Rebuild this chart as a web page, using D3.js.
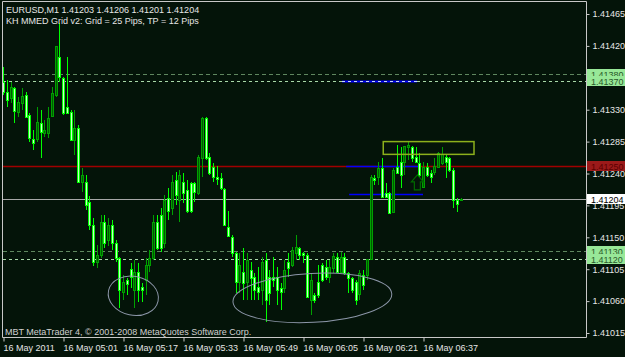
<!DOCTYPE html>
<html lang="en">
<head>
<meta charset="UTF-8">
<title>EURUSD,M1</title>
<script src="https://d3js.org/d3.v7.min.js"></script>
<style>
    body{ margin:0; background:#041409; }
    svg{ display:block; }
    text{ font-family:"Liberation Sans", Arial, sans-serif; font-size:9px; fill:#e6e6e6; }
</style>
</head>
<body>
<svg id="chart" width="625" height="357"></svg>
<script>
// one bar per minute, bar 0 = 04:45
const opens = [
 1.41369,1.41355,1.41346,1.41360,1.41327,1.41339,1.41351,1.41322,1.41289,1.41289,
 1.41311,1.41297,1.41297,1.41320,1.41351,1.41404,1.41375,1.41334,1.41327,1.41287,
 1.41304,1.41228,1.41228,1.41200,1.41167,1.41115,1.41125,1.41172,1.41146,1.41167,
 1.41142,1.41121,1.41073,1.41090,1.41105,1.41076,1.41101,1.41080,1.41090,1.41111,
 1.41121,1.41172,1.41181,1.41142,1.41205,1.41191,1.41231,1.41203,1.41228,1.41217,
 1.41227,1.41227,1.41212,1.41262,1.41318,1.41263,1.41249,1.41235,1.41234,1.41218,
 1.41165,1.41150,1.41128,1.41087,1.41101,1.41087,1.41104,1.41094,1.41080,1.41076,
 1.41118,1.41094,1.41094,1.41094,1.41078,1.41078,1.41115,1.41111,1.41128,1.41135,
 1.41128,1.41125,1.41062,1.41069,1.41087,1.41111,1.41108,1.41094,1.41107,1.41122,
 1.41101,1.41122,1.41100,1.41093,1.41087,1.41071,1.41097,1.41097,1.41119,1.41234,
 1.41235,1.41248,1.41212,1.41212,1.41186,1.41249,1.41256,1.41256,1.41277,1.41277,
 1.41263,1.41255,1.41221,1.41249,1.41241,1.41241,1.41249,1.41255,1.41263,1.41262,
 1.41245,1.41203,1.41203];
const highs = [
 1.41390,1.41372,1.41369,1.41362,1.41348,1.41360,1.41355,1.41325,1.41301,1.41334,
 1.41329,1.41315,1.41334,1.41362,1.41420,1.41452,1.41376,1.41404,1.41329,1.41329,
 1.41308,1.41248,1.41238,1.41208,1.41177,1.41139,1.41181,1.41181,1.41177,1.41174,
 1.41146,1.41122,1.41097,1.41093,1.41114,1.41118,1.41114,1.41085,1.41121,1.41132,
 1.41181,1.41181,1.41191,1.41210,1.41220,1.41238,1.41242,1.41245,1.41241,1.41231,
 1.41228,1.41228,1.41266,1.41320,1.41320,1.41269,1.41255,1.41250,1.41241,1.41220,
 1.41187,1.41153,1.41129,1.41128,1.41135,1.41128,1.41115,1.41100,1.41108,1.41122,
 1.41128,1.41104,1.41122,1.41108,1.41085,1.41118,1.41128,1.41136,1.41153,1.41136,
 1.41129,1.41128,1.41100,1.41071,1.41111,1.41114,1.41118,1.41118,1.41128,1.41128,
 1.41129,1.41128,1.41101,1.41094,1.41090,1.41104,1.41104,1.41119,1.41238,1.41238,
 1.41256,1.41262,1.41227,1.41214,1.41248,1.41280,1.41277,1.41279,1.41284,1.41279,
 1.41277,1.41269,1.41256,1.41255,1.41245,1.41262,1.41270,1.41277,1.41266,1.41263,
 1.41248,1.41205,1.41206];
const lows = [
 1.41351,1.41334,1.41339,1.41311,1.41320,1.41329,1.41318,1.41284,1.41273,1.41284,
 1.41262,1.41291,1.41290,1.41320,1.41348,1.41369,1.41322,1.41325,1.41287,1.41266,
 1.41227,1.41214,1.41188,1.41160,1.41110,1.41107,1.41121,1.41135,1.41138,1.41132,
 1.41115,1.41050,1.41062,1.41069,1.41078,1.41050,1.41059,1.41059,1.41069,1.41101,
 1.41118,1.41132,1.41129,1.41135,1.41174,1.41181,1.41196,1.41172,1.41198,1.41184,
 1.41184,1.41200,1.41210,1.41235,1.41259,1.41238,1.41228,1.41224,1.41217,1.41166,
 1.41152,1.41122,1.41071,1.41071,1.41062,1.41062,1.41062,1.41062,1.41062,1.41055,
 1.41031,1.41055,1.41080,1.41055,1.41047,1.41071,1.41094,1.41108,1.41118,1.41118,
 1.41114,1.41064,1.41040,1.41057,1.41064,1.41087,1.41090,1.41085,1.41100,1.41100,
 1.41100,1.41097,1.41071,1.41071,1.41055,1.41062,1.41076,1.41090,1.41118,1.41224,
 1.41224,1.41205,1.41205,1.41184,1.41186,1.41241,1.41220,1.41238,1.41259,1.41256,
 1.41255,1.41235,1.41221,1.41235,1.41227,1.41238,1.41248,1.41252,1.41234,1.41242,
 1.41191,1.41186,1.41201];
const closes = [
 1.41355,1.41344,1.41362,1.41327,1.41341,1.41349,1.41320,1.41289,1.41284,1.41313,
 1.41298,1.41301,1.41318,1.41353,1.41420,1.41376,1.41325,1.41325,1.41287,1.41304,
 1.41228,1.41238,1.41196,1.41167,1.41115,1.41125,1.41172,1.41143,1.41167,1.41142,
 1.41121,1.41076,1.41087,1.41085,1.41094,1.41101,1.41076,1.41076,1.41111,1.41121,
 1.41172,1.41136,1.41135,1.41203,1.41186,1.41228,1.41210,1.41238,1.41212,1.41188,
 1.41188,1.41214,1.41263,1.41318,1.41262,1.41241,1.41235,1.41232,1.41220,1.41167,
 1.41153,1.41128,1.41087,1.41111,1.41085,1.41118,1.41093,1.41076,1.41073,1.41115,
 1.41062,1.41071,1.41090,1.41076,1.41073,1.41104,1.41107,1.41132,1.41136,1.41125,
 1.41125,1.41066,1.41090,1.41062,1.41069,1.41090,1.41094,1.41108,1.41124,1.41101,
 1.41122,1.41100,1.41093,1.41076,1.41062,1.41100,1.41083,1.41119,1.41235,1.41231,
 1.41248,1.41207,1.41207,1.41184,1.41245,1.41241,1.41238,1.41279,1.41280,1.41262,
 1.41256,1.41238,1.41249,1.41238,1.41235,1.41250,1.41269,1.41267,1.41256,1.41245,
 1.41203,1.41198,1.41204];

const timeTicks = [0, 16, 32, 48, 64, 80, 96, 112];
const timeLabels = ["16 May 2011", "16 May 05:01", "16 May 05:17", "16 May 05:33",
                    "16 May 05:49", "16 May 06:05", "16 May 06:21", "16 May 06:37"];
const priceTicks = [1.41465, 1.41420, 1.41375, 1.41330, 1.41285, 1.41240,
                    1.41195, 1.41150, 1.41105, 1.41060, 1.41015];

const gridLevels = [1.41380, 1.41370, 1.41130, 1.41120];   // grid lines (buy / sell)
const tpLevel = 1.41250;
const bidPrice = 1.41204;
// short blue segments: [fromBar, toBar, price, dashed]
const blueLines = [[90.4, 110.4, 1.41370, true], [91.5, 111.2, 1.41250, false], [92.3, 112, 1.41211, false]];
// drawn objects
const boxObj = {t1: 101.4, t2: 125.6, p1: 1.41285, p2: 1.41267};
const arrowObj = {t: 110.5, p: 1.41238};
const ellipses = [
    {t1: 28, t2: 41.5, p1: 1.41095, p2: 1.41040, rot: 12},
    {t1: 61.3, t2: 103.7, p1: 1.41099, p2: 1.41030, rot: -3}
];
const header1 = "EURUSD,M1  1.41203 1.41206 1.41201 1.41204";
const header2 = "KH MMED Grid v2: Grid = 25 Pips, TP = 12 Pips";
const copyright = "MBT MetaTrader 4, \u00a9 2001-2008 MetaQuotes Software Corp.";

const svg = d3.select("#chart");
const pL = 3, pR = 586, pT = 1, pB = 338;

const x = d3.scaleLinear().domain([0, 16]).range([3, 63]);
const y = d3.scaleLinear().domain([1.41015, 1.41465]).range([333, 14]);

svg.append("rect").attr("width", 625).attr("height", 357).attr("fill", "#041409");

svg.append("defs").append("clipPath").attr("id", "plotclip")
    .append("rect").attr("x", pL).attr("y", pT).attr("width", pR - pL).attr("height", pB - pT);

const plot = svg.append("g").attr("clip-path", "url(#plotclip)");
const yy = p => Math.round(y(p)) + 0.5;

// grid levels
plot.selectAll(".lvl").data(gridLevels).join("line")
    .attr("x1", pL).attr("x2", pR)
    .attr("y1", d => yy(d)).attr("y2", d => yy(d))
    .attr("stroke", (d, i) => i % 2 === 0 ? "#5f875f" : "#a8d8a8")
    .attr("stroke-dasharray", (d, i) => i % 2 === 0 ? "4,3" : "3,3");

plot.append("line")
    .attr("x1", pL).attr("x2", pR)
    .attr("y1", yy(tpLevel)).attr("y2", yy(tpLevel))
    .attr("stroke", "#a00000").attr("stroke-width", 1.5);

plot.selectAll(".blue").data(blueLines).join("line")
    .attr("x1", d => x(d[0])).attr("x2", d => x(d[1]))
    .attr("y1", d => yy(d[2])).attr("y2", d => yy(d[2]))
    .attr("stroke", "#0000ff").attr("stroke-width", d => d[3] ? 2 : 1.5);
// light dashes over the dashed blue segment
plot.selectAll(".blued").data(blueLines.filter(d => d[3])).join("line")
    .attr("x1", d => x(d[0])).attr("x2", d => x(d[1]))
    .attr("y1", d => yy(d[2])).attr("y2", d => yy(d[2]))
    .attr("stroke", "#c8d8ff").attr("stroke-dasharray", "3,3");

plot.append("line")
    .attr("x1", pL).attr("x2", pR)
    .attr("y1", yy(bidPrice)).attr("y2", yy(bidPrice))
    .attr("stroke", "#a8a8a8");

// candles
const bars = d3.range(opens.length).map(i => ({i, o: opens[i], h: highs[i], l: lows[i], c: closes[i]}));
const cg = plot.append("g").attr("shape-rendering", "crispEdges");
const cand = cg.selectAll("g").data(bars).join("g");
const up = d => d.c > d.o;
cand.append("line")
    .attr("x1", d => Math.round(x(d.i)) + 0.5).attr("x2", d => Math.round(x(d.i)) + 0.5)
    .attr("y1", d => y(d.h)).attr("y2", d => y(d.l))
    .attr("stroke", d => up(d) ? "#00a000" : "#00ff00");
cand.append("rect")
    .attr("x", d => Math.round(x(d.i)) - 1)
    .attr("y", d => Math.round(y(Math.max(d.o, d.c))))
    .attr("width", 2)
    .attr("height", d => Math.max(1, Math.round(Math.abs(y(d.o) - y(d.c)))))
    .attr("fill", d => up(d) ? "#005a00" : "#c8ffc8")
    .attr("stroke", d => up(d) ? "#00a000" : "#00ff00");

// rectangle object
plot.append("rect")
    .attr("x", x(boxObj.t1)).attr("y", y(boxObj.p1))
    .attr("width", x(boxObj.t2) - x(boxObj.t1)).attr("height", y(boxObj.p2) - y(boxObj.p1))
    .attr("fill", "none").attr("stroke", "#8cb01c").attr("stroke-width", 1.5);

// arrow object
const ax = x(arrowObj.t), ay = y(arrowObj.p);
plot.append("path")
    .attr("d", `M${ax},${ay} L${ax + 6},${ay + 7} L${ax + 3},${ay + 7} L${ax + 3},${ay + 15} L${ax - 3},${ay + 15} L${ax - 3},${ay + 7} L${ax - 6},${ay + 7} Z`)
    .attr("fill", "none").attr("stroke", "#006a00").attr("stroke-width", 1.2);

// ellipses
plot.selectAll(".ell").data(ellipses).join("ellipse")
    .attr("cx", d => (x(d.t1) + x(d.t2)) / 2)
    .attr("cy", d => (y(d.p1) + y(d.p2)) / 2)
    .attr("rx", d => (x(d.t2) - x(d.t1)) / 2)
    .attr("ry", d => (y(d.p2) - y(d.p1)) / 2)
    .attr("transform", d => `rotate(${d.rot},${(x(d.t1) + x(d.t2)) / 2},${(y(d.p1) + y(d.p2)) / 2})`)
    .attr("fill", "none").attr("stroke", "#8c96a8").attr("stroke-width", 1);

// frame
svg.append("path")
    .attr("d", `M${pL - 0.5},${pT + 0.5} H${pR + 0.5} V${pB - 0.5} H${pL - 0.5} Z`)
    .attr("fill", "none").attr("stroke", "#c8c8c8");

// axes
const yAxis = svg.append("g").attr("transform", `translate(${pR + 0.5},0)`)
    .call(d3.axisRight(y).tickValues(priceTicks).tickSize(3).tickPadding(3).tickFormat(d3.format(".5f")));
yAxis.select(".domain").remove();
yAxis.selectAll("line").attr("stroke", "#c8c8c8");
yAxis.selectAll("text").attr("fill", "#e6e6e6").style("font-size", "9px").style("font-family", "Liberation Sans, Arial");

const xAxis = svg.append("g").attr("transform", `translate(0,${pB - 0.5})`)
    .call(d3.axisBottom(x).tickValues(timeTicks).tickSize(4).tickPadding(3).tickFormat((d, i) => timeLabels[i]));
xAxis.select(".domain").remove();
xAxis.selectAll("line").attr("stroke", "#c8c8c8").attr("transform", "translate(0.5,0)");
xAxis.selectAll("text").attr("text-anchor", "start").attr("x", 0).attr("fill", "#e6e6e6")
    .style("font-size", "9px").style("font-family", "Liberation Sans, Arial");

// price labels on the axis
const tags = [
    {p: gridLevels[0], fill: "#98e898", color: "#2a5a2a"},
    {p: gridLevels[1], fill: "#98e898", color: "#2a5a2a"},
    {p: gridLevels[2], fill: "#98e898", color: "#2a5a2a"},
    {p: gridLevels[3], fill: "#98e898", color: "#2a5a2a"},
    {p: tpLevel, fill: "#9c1a1a", color: "#5a0000"},
    {p: bidPrice, fill: "#ffffff", color: "#000000"}
];
const tg = svg.selectAll(".tag").data(tags).join("g");
tg.append("rect")
    .attr("x", pR + 1).attr("y", d => Math.round(y(d.p)) - 5)
    .attr("width", 38).attr("height", 10).attr("fill", d => d.fill);
tg.append("text")
    .attr("x", pR + 5).attr("y", d => Math.round(y(d.p)) + 3.5)
    .style("fill", d => d.color).style("font-size", "9px")
    .text(d => d3.format(".5f")(d.p));

// header and copyright
svg.append("text").attr("x", 6).attr("y", 13).text(header1);
svg.append("text").attr("x", 6).attr("y", 23.5).text(header2);
svg.append("text").attr("x", 5).attr("y", 335).style("fill", "#d0d0d0").text(copyright);
</script>
</body>
</html>
